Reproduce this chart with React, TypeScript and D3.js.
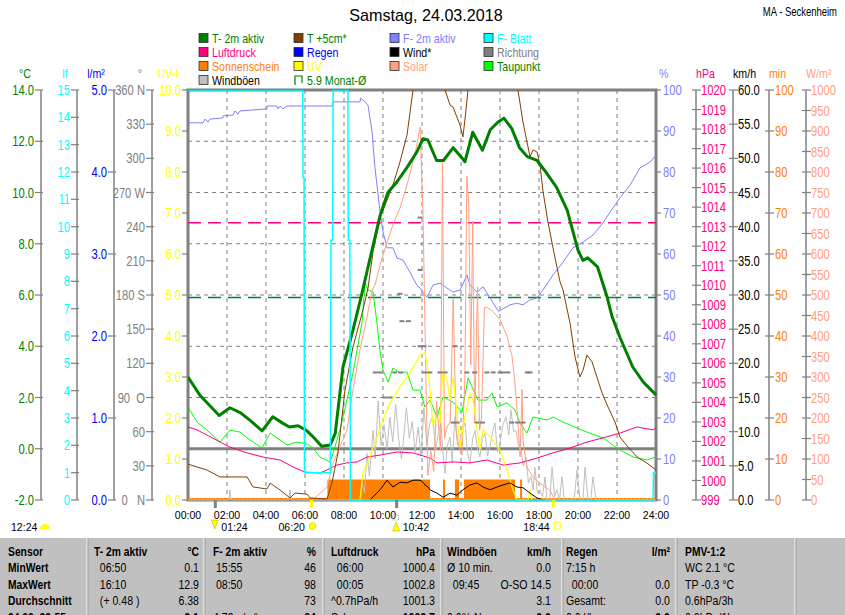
import React from "react";
import * as d3 from "d3";

type P = [number, number];

// ---------- data ----------
const hourTicks = d3.range(0, 25, 2);
const hourLabels = hourTicks.map((h) => `${String(h).padStart(2, "0")}:00`);

const tempT2m: P[] = [
  [0, 2.8], [0.6, 2.1], [1.1, 1.7], [1.6, 1.3], [2.15, 1.6], [2.7, 1.4], [3.2, 1.1], [3.8, 0.7],
  [4.35, 1.25], [4.85, 1.0], [5.2, 0.85], [5.65, 0.9], [6.1, 0.7], [6.5, 0.4], [6.85, 0.1], [7.3, 0.15],
  [7.55, 0.6], [7.95, 3.2], [8.45, 4.6], [8.9, 6.0], [9.45, 7.8], [9.85, 9.1], [10.25, 10.0], [10.7, 10.4],
  [11.25, 11.0], [11.75, 11.6], [12.05, 12.1], [12.3, 12.05], [12.75, 11.25], [13.1, 11.25], [13.6, 11.75],
  [14.05, 11.35], [14.2, 11.2], [14.6, 12.35], [15.1, 11.65], [15.5, 12.45], [15.9, 12.75], [16.2, 12.9],
  [16.6, 12.5], [17.0, 11.75], [17.4, 11.4], [17.9, 11.25], [18.4, 10.75], [18.9, 10.2], [19.45, 9.3],
  [19.75, 8.45], [20.0, 7.75], [20.25, 7.35], [20.5, 7.45], [21.0, 7.1], [21.5, 5.9], [21.75, 5.15],
  [22.15, 4.35], [22.8, 3.2], [23.35, 2.6], [24, 2.1],
];

const temp5cm: P[] = [
  [0, -0.6], [0.46, -0.71], [0.97, -0.83], [1.64, -1.1], [3.03, -1.1], [3.33, -1.49], [4.05, -1.57],
  [4.21, -1.34], [4.72, -1.61], [5.23, -1.92], [5.49, -1.73], [6.1, -1.77], [6.26, -1.92], [7.13, -1.96],
  [7.38, -1.34], [7.69, -0.17], [8.05, 2.29], [8.46, 3.97], [8.97, 5.41], [9.23, 6.27], [9.49, 7.68],
  [9.85, 9.0], [10.51, 10.29], [10.87, 11.19], [11.23, 12.24], [11.54, 14.0], [11.9, 14.9], [12.6, 14.7],
  [13.18, 14.0], [13.44, 13.41], [13.59, 13.34], [13.95, 12.63], [14.1, 12.17], [14.21, 12.9], [14.36, 14.0],
  [15.2, 15.6], [16.2, 15.2], [16.92, 14.0], [17.18, 12.75], [17.54, 11.39], [17.69, 11.66], [17.9, 11.58],
  [18.05, 11.07], [18.21, 10.02], [18.46, 8.85], [18.72, 7.83], [19.08, 6.51], [19.23, 6.2], [19.59, 4.91],
  [19.85, 3.58], [20.1, 2.8], [20.26, 3.07], [20.46, 3.66], [20.72, 3.39], [20.97, 2.8], [21.23, 2.18],
  [21.54, 1.63], [21.9, 1.04], [22.15, 0.46], [22.56, 0.07], [23.03, -0.32], [23.54, -0.56], [24, -0.83],
];

const humidity: P[] = [
  [0, 92], [0.77, 92], [0.87, 92.9], [1.03, 92.2], [1.13, 92.9], [1.79, 93.2], [1.8, 93.7], [2.31, 93.9],
  [2.41, 94.9], [2.56, 94.1], [2.67, 94.9], [4.05, 95.4], [4.06, 96.1], [4.56, 96.1], [4.62, 95.4],
  [4.72, 96.1], [4.87, 95.4], [5.08, 96.1], [7.38, 96.1], [7.44, 97.1], [8.82, 97.1], [8.85, 98],
  [9.08, 97.1], [9.23, 96.3], [9.33, 93.2], [9.44, 89.8], [9.49, 86.6], [9.59, 81], [9.69, 76.8],
  [9.85, 70.2], [10.0, 65.4], [10.21, 61.5], [10.51, 61.5], [10.72, 59], [11.03, 58.5], [11.38, 55.6],
  [11.54, 54.1], [11.74, 52.4], [11.9, 51.7], [12.05, 50.7], [12.26, 49.5], [12.56, 52.4], [12.92, 52.9],
  [13.28, 51.7], [13.59, 50.7], [13.95, 51.2], [14.31, 54.9], [14.46, 52.4], [14.82, 50.7], [15.13, 52],
  [15.49, 49.3], [15.92, 46], [16.51, 47.6], [16.87, 48], [17.18, 47.6], [17.54, 48.8], [17.9, 49.3],
  [18.2, 51.2], [18.72, 54.9], [19.23, 58], [19.74, 61.5], [20.26, 62.9], [20.77, 64.6], [21.28, 67.6],
  [21.64, 70.2], [22.15, 73.7], [22.67, 76.8], [23.18, 81], [23.69, 82.4], [24, 84.1],
];

const leafWet: P[] = [
  [0, 15], [5.88, 15], [5.9, 11.8], [5.95, 11.8], [5.97, 1], [7.3, 1], [7.33, 9.5], [7.42, 9.5], [7.44, 15],
  [8.2, 15], [8.22, 9.5], [8.3, 9.5], [8.33, 0], [23.85, 0], [23.87, 1], [24, 1],
];

const pressure: P[] = [
  [0, 1002.74], [0.46, 1002.59], [0.97, 1002.33], [1.64, 1001.97], [2.15, 1001.71], [3.03, 1001.41],
  [3.85, 1001.2], [4.72, 1001.05], [5.38, 1000.69], [6.0, 1000.43], [6.77, 1000.38], [7.13, 1000.54],
  [7.64, 1000.79], [8.15, 1000.9], [8.67, 1000.95], [9.18, 1001.2], [9.85, 1001.3], [10.72, 1001.46],
  [11.54, 1001.41], [12.41, 1001.15], [12.77, 1000.9], [13.59, 1000.95], [14.46, 1000.9], [15.33, 1001.05],
  [16.15, 1000.79], [17.03, 1000.9], [17.9, 1001.15], [18.72, 1001.41], [19.59, 1001.66], [20.46, 1001.97],
  [21.28, 1002.18], [22.15, 1002.43], [23.03, 1002.74], [23.85, 1002.59], [24, 1002.7],
];

const dewPoint: P[] = [
  [0, 1.63], [0.46, 1.04], [0.97, 0.73], [1.64, 0.26], [2.15, 0.73], [2.67, 0.65], [3.18, 0.34], [3.79, 0.03],
  [4.21, 0.61], [4.72, 0.34], [5.08, 0.15], [5.59, 0.26], [6.1, 0.19], [6.41, 0.03], [6.77, -0.32],
  [7.28, -0.52], [7.44, -0.17], [7.79, 0.73], [8.15, 1.9], [8.46, 2.96], [8.92, 4.91], [9.08, 6.47],
  [9.23, 6.2], [9.49, 6.12], [9.69, 4.91], [9.85, 3.78], [10.0, 3.07], [10.26, 2.6], [10.51, 3.15],
  [10.87, 2.96], [11.23, 3.0], [11.54, 2.29], [11.9, 2.29], [12.15, 1.63], [12.41, 1.9], [12.77, 1.24],
  [13.08, 2.02], [13.59, 1.82], [14.05, 1.43], [14.36, 2.76], [14.87, 1.9], [15.33, 1.9], [15.59, 2.18],
  [15.85, 1.63], [16.36, 1.79], [16.77, 1.51], [17.03, 1.0], [17.38, 0.61], [17.69, 1.24], [18.41, 1.12],
  [18.72, 1.24], [19.23, 1.04], [19.95, 0.81], [20.46, 0.65], [21.28, 0.42], [22.15, -0.05], [22.82, -0.32],
  [23.54, -0.44], [24, -0.32],
];

const uvIndex: P[] = [
  [8.82, 0], [8.97, 0.66], [9.33, 1.05], [9.69, 1.54], [10.0, 1.95], [10.36, 2.37], [10.87, 2.76],
  [11.38, 3.1], [11.9, 3.54], [12.15, 3.59], [12.31, 3.17], [12.41, 2.68], [12.56, 1.83], [12.77, 2.02],
  [12.92, 1.9], [13.08, 3.17], [13.28, 2.93], [13.44, 2.44], [13.59, 3.0], [13.79, 2.12], [13.95, 1.29],
  [14.1, 1.78], [14.31, 2.27], [14.46, 2.61], [14.62, 2.44], [14.97, 1.22], [15.13, 1.71], [15.49, 1.54],
  [16.0, 1.22], [16.36, 0.73], [16.67, 0.24], [16.87, 0], [17.44, 0], [17.54, 0.24], [17.64, 0],
];

const solar: P[] = [
  [6.41, 0], [7.13, 32], [7.44, 90], [8.15, 171], [8.46, 268], [8.82, 366], [9.18, 446], [9.44, 512],
  [9.59, 524], [9.85, 573], [10.21, 629], [10.51, 671], [10.87, 712], [11.23, 768], [11.49, 817],
  [11.74, 866], [11.9, 910], [12.05, 700], [12.2, 300], [12.3, 60], [12.45, 120], [12.6, 70], [12.75, 240],
  [12.85, 180], [12.95, 120], [13.05, 830], [13.15, 150], [13.3, 180], [13.45, 190], [13.6, 490],
  [13.75, 170], [13.9, 130], [14.05, 110], [14.2, 300], [14.3, 790], [14.4, 720], [14.5, 330], [14.6, 680],
  [14.7, 190], [14.85, 520], [14.95, 170], [15.05, 200], [15.2, 470], [15.33, 470], [15.64, 460],
  [16.0, 440], [16.36, 400], [16.62, 350], [16.77, 285], [16.92, 190], [17.03, 105], [17.13, 270],
  [17.18, 145], [17.38, 80], [17.69, 56], [18.05, 41], [18.56, 24], [18.82, 0],
];

const wind: P[] = [
  [9.33, 0], [9.85, 1.5], [10.21, 2.9], [10.51, 1.9], [10.87, 2.6], [11.23, 2.5], [11.54, 2.9], [11.9, 2.9],
  [12.05, 2.6], [12.15, 2.2], [12.31, 1.9], [12.41, 1.5], [12.77, 1.0], [13.08, 0.4], [13.44, 1.0],
  [13.79, 0.7], [14.1, 1.5], [14.46, 2.2], [14.82, 2.5], [15.13, 1.9], [15.49, 1.5], [15.85, 1.9],
  [16.15, 2.2], [16.51, 2.5], [16.87, 1.9], [17.18, 1.8], [17.54, 1.0], [17.9, 0.3], [18.2, 0],
];

const gusts: P[] = [
  [0, 0], [2.1, 0], [2.15, 1.5], [2.2, 0], [5.18, 0], [5.23, 1.5], [5.28, 0], [8.85, 0], [8.92, 2.5],
  [9.05, 1.0], [9.18, 6.8], [9.3, 3.5], [9.49, 10.2], [9.6, 6.0], [9.75, 14.5], [9.9, 8.0], [10.05, 11.0],
  [10.21, 7.5], [10.35, 12.1], [10.5, 8.5], [10.65, 14.0], [10.8, 9.0], [10.95, 6.0], [11.05, 8.8],
  [11.2, 13.5], [11.35, 9.0], [11.5, 11.5], [11.65, 7.0], [11.8, 10.7], [11.95, 6.5], [12.1, 13.5],
  [12.25, 8.0], [12.4, 11.3], [12.55, 12.2], [12.7, 7.3], [12.85, 10.0], [12.97, 11.3], [13.1, 6.0],
  [13.18, 3.9], [13.3, 8.0], [13.44, 9.2], [13.55, 5.5], [13.69, 12.2], [13.82, 8.0], [13.95, 7.8],
  [14.08, 10.5], [14.21, 11.3], [14.33, 7.0], [14.46, 5.4], [14.6, 9.0], [14.72, 10.2], [14.85, 7.5],
  [14.97, 6.3], [15.1, 9.0], [15.23, 9.7], [15.36, 6.5], [15.49, 7.8], [15.62, 10.0], [15.74, 11.3],
  [15.87, 7.0], [16.0, 8.4], [16.15, 11.0], [16.31, 12.2], [16.45, 9.5], [16.56, 13.2], [16.7, 10.0],
  [16.82, 10.2], [16.95, 8.0], [17.08, 7.3], [17.2, 5.0], [17.33, 6.3], [17.46, 2.5], [17.59, 3.4],
  [17.7, 1.5], [17.79, 4.8], [17.92, 1.0], [18.05, 1.5], [18.18, 0.5], [18.31, 3.4], [18.41, 0], [18.55, 0],
  [18.67, 4.8], [18.8, 0.5], [18.92, 1.5], [19.05, 0], [19.18, 3.4], [19.3, 0], [19.8, 0], [19.95, 4.4],
  [20.1, 0], [20.25, 0], [20.36, 4.8], [20.51, 0], [20.65, 0], [20.77, 3.4], [20.92, 0], [24, 0],
];

const windDir: P[] = [
  [10.87, 181], [10.97, 157], [11.3, 157], [9.6, 112], [9.85, 112], [10.6, 112], [10.9, 112], [12.15, 112],
  [12.4, 112], [12.92, 112], [13.18, 112], [14.3, 112], [14.7, 112], [15.33, 112], [15.65, 112], [16.0, 112],
  [16.15, 112], [16.4, 112], [17.4, 112], [17.54, 112], [10.1, 90], [10.36, 90], [13.6, 68], [13.8, 68],
  [14.82, 68], [15.1, 68], [16.6, 68], [16.9, 68], [17.18, 68], [11.9, 135], [12.1, 135], [13.7, 135],
  [11.9, 248], [11.9, 202],
];

const sunStart = [7.15, 13.08, 13.69, 14.15, 17.03];
const sunEnd = [12.41, 13.18, 13.9, 16.77, 17.13];
const sunMinutes = 5;

const monthAvgTemp = 5.9;
const monthAvgPress = 1013.2;

const degLabels = ["0   N", "30", "60", "90  O", "120", "150", "180 S", "210", "240", "270 W", "300", "330", "360 N"];

const legendLabels = [
  "T- 2m aktiv", "T +5cm*", "F- 2m aktiv", "F- Blatt",
  "Luftdruck", "Regen", "Wind*", "Richtung",
  "Sonnenschein", "UV", "Solar", "Taupunkt",
  "Windböen", "5.9 Monat-Ø",
];
const legendSwatch = [
  "#008000", "#804000", "#8080FF", "#00FFFF",
  "#FF0080", "#0000FF", "#000000", "#808080",
  "#FF8000", "#FFFF00", "#FFA080", "#00FF00",
  "#C0C0C0", "none",
];
const legendText = [
  "#008000", "#008000", "#8080FF", "#00FFFF",
  "#FF0080", "#0000FF", "#000000", "#808080",
  "#FF8000", "#FFFF00", "#FFA080", "#008000",
  "#000000", "#008000",
];

const tableHeaders = ["Sensor", "T- 2m aktiv", "F- 2m aktiv", "Luftdruck", "Windböen", "Regen", "PMV-1:2"];
const tableUnits = ["", "°C", "%", "hPa", "km/h", "l/m²", ""];
const rowLabels = ["MinWert", "MaxWert", "Durchschnitt", "24.03. 23:55"];
const cellLeft = [
  ["  06:50", "  16:10", "  (+ 0.48 )", ""],
  [" 15:55", " 08:50", "", "4.79 g/m³"],
  ["  06:00", "  00:05", "^0.7hPa/h", "Sch."],
  ["Ø 10 min.", "  09:45", "", "0.0% N"],
  ["7:15 h", "  00:00", "Gesamt:", "0.0 l/h"],
  ["WC 2.1 °C", "TP -0.3 °C", "0.6hPa/3h", "0.0hPa/1h"],
];
const cellRight = [
  ["0.1", "12.9", "6.38", "2.1"],
  ["46", "98", "73", "84"],
  ["1000.4", "1002.8", "1001.3", "1002.7"],
  ["0.0", "O-SO 14.5", "3.1", "0.0"],
  ["", "0.0", "0.0", "0.0"],
  ["", "", "", ""],
];

// ---------- layout ----------
const X0 = 188, X1 = 656, Y0 = 90, Y1 = 500;
const FR = "'Liberation Sans', Arial, sans-serif";
const GRAY = "#808080";

const colX = [8, 94, 213, 331, 447, 566, 685];
const colR = [0, 199, 316, 435, 551, 670, 0];
const sepX = [87, 204, 323, 441, 562, 676, 795];
const rowY = [572, 589, 605, 622];

type TP = {
  x: number; y: number; size?: number; sx?: number; anchor?: string; fill?: string;
  weight?: string; dy?: string; pre?: boolean; children?: React.ReactNode;
};
function T({ x, y, size = 13, sx = 0.82, anchor = "start", fill = "#000", weight = "normal", dy, pre, children }: TP) {
  return (
    <text transform={`translate(${x},${y}) scale(${sx},1)`} fontFamily={FR} fontSize={size} textAnchor={anchor}
      fill={fill} fontWeight={weight} dy={dy} xmlSpace={pre ? "preserve" : undefined}
      style={pre ? { whiteSpace: "pre" } : undefined}>{children}</text>
  );
}

export default function App() {
  const x = d3.scaleLinear().domain([0, 24]).range([X0, X1]);
  const yT = d3.scaleLinear().domain([-2, 14]).range([Y1, Y0]);
  const yLf = d3.scaleLinear().domain([0, 15]).range([Y1, Y0]);
  const yRain = d3.scaleLinear().domain([0, 5]).range([Y1, Y0]);
  const yDeg = d3.scaleLinear().domain([0, 360]).range([Y1, Y0]);
  const yUV = d3.scaleLinear().domain([0, 10]).range([Y1, Y0]);
  const yHum = d3.scaleLinear().domain([0, 100]).range([Y1, Y0]);
  const yP = d3.scaleLinear().domain([999, 1020]).range([Y1, Y0]);
  const yKmh = d3.scaleLinear().domain([0, 60]).range([Y1, Y0]);
  const yMin = d3.scaleLinear().domain([0, 100]).range([Y1, Y0]);
  const yW = d3.scaleLinear().domain([0, 1000]).range([Y1, Y0]);

  const mk = (ys: d3.ScaleLinear<number, number>) =>
    d3.line<P>().x((d) => x(d[0])).y((d) => ys(d[1]));

  const leftAxes = [
    { ax: 41, s: yT, ticks: d3.range(-2, 15, 2), lab: (d: number, i: number) => d.toFixed(1), color: "#008000", title: "°C", tx: 25 },
    { ax: 77, s: yLf, ticks: d3.range(0, 16), lab: (d: number, i: number) => String(d), color: "#00FFFF", title: "lf", tx: 65 },
    { ax: 114, s: yRain, ticks: d3.range(0, 6), lab: (d: number, i: number) => d.toFixed(1), color: "#0000FF", title: "l/m²", tx: 96 },
    { ax: 152, s: yDeg, ticks: d3.range(0, 361, 30), lab: (d: number, i: number) => degLabels[i], color: GRAY, title: "°", tx: 140 },
    { ax: X0, s: yUV, ticks: d3.range(0, 11), lab: (d: number, i: number) => d.toFixed(1), color: "#FFFF00", title: "UV-I", tx: 168 },
  ];
  const rightAxes = [
    { ax: X1, s: yHum, ticks: d3.range(0, 101, 10), lab: (d: number) => String(d), color: "#8080FF", title: "%", tx: 659, lx: 663 },
    { ax: 696, s: yP, ticks: d3.range(999, 1021), lab: (d: number) => String(d), color: "#FF0080", title: "hPa", tx: 696, lx: 701 },
    { ax: 733, s: yKmh, ticks: d3.range(0, 61, 5), lab: (d: number) => d.toFixed(1), color: "#000000", title: "km/h", tx: 733, lx: 738 },
    { ax: 769, s: yMin, ticks: d3.range(0, 101, 10), lab: (d: number) => String(d), color: "#FF8000", title: "min", tx: 769, lx: 775 },
    { ax: 806, s: yW, ticks: d3.range(0, 1001, 50), lab: (d: number) => String(d), color: "#FFA080", title: "W/m²", tx: 806, lx: 811 },
  ];

  const sunrise = 6 + 20 / 60, sunset = 18 + 44 / 60, moonset = 1 + 24 / 60, moonrise = 10 + 42 / 60;
  const rowB = 531;

  return (
    <svg width={845} height={615} style={{ position: "fixed", left: 0, top: 0, background: "#fff" }}>
      <defs>
        <clipPath id="plot">
          <rect x={X0} y={Y0} width={X1 - X0 + 1} height={Y1 - Y0 + 1} />
        </clipPath>
      </defs>
      <rect x={0} y={0} width={845} height={615} fill="#fff" />

      {/* titles */}
      <T x={426} y={21} size={17} sx={0.95} anchor="middle">Samstag, 24.03.2018</T>
      <T x={837} y={16} size={12} sx={0.79} anchor="end">MA - Seckenheim</T>

      {/* legend */}
      {legendLabels.map((l, i) => {
        const cx = [199, 294, 390, 484][i % 4];
        const cy = 38 + Math.floor(i / 4) * 14;
        return (
          <g key={l}>
            {legendSwatch[i] === "none" ? (
              <path d={`M${cx + 1},${cy + 5} V${cy - 4} H${cx + 8} V${cy + 3}`} fill="none" stroke="#008000" strokeWidth={1.2} />
            ) : (
              <rect x={cx} y={cy - 4.5} width={9} height={9} fill={legendSwatch[i]} stroke="#303030" strokeWidth={0.8} />
            )}
            <T x={cx + 13} y={cy + 4.5} size={13} fill={legendText[i]}>{l}</T>
          </g>
        );
      })}

      {/* left axes */}
      {leftAxes.map((a) => (
        <g key={a.title}>
          <T x={a.tx} y={78} size={13} fill={a.color} anchor="middle">{a.title}</T>
          {a.ax !== X0 && <line x1={a.ax} x2={a.ax} y1={Y0} y2={Y1} stroke={GRAY} strokeWidth={1.5} />}
          {a.ticks.map((t, i) => (
            <g key={t}>
              <line x1={a.ax - 6} x2={a.ax + (a.ax === X0 ? 0 : 2)} y1={a.s(t)} y2={a.s(t)} stroke={GRAY} strokeWidth={1.2} />
              <T x={a.ax - 7} y={a.s(t)} dy="0.36em" size={14} sx={0.8} fill={a.color} anchor="end" pre>{a.lab(t, i)}</T>
            </g>
          ))}
        </g>
      ))}

      {/* right axes */}
      {rightAxes.map((a) => (
        <g key={a.title}>
          <T x={a.tx} y={78} size={13} fill={a.color}>{a.title}</T>
          {a.ax !== X1 && <line x1={a.ax} x2={a.ax} y1={Y0} y2={Y1} stroke={GRAY} strokeWidth={1.5} />}
          {a.ticks.map((t) => (
            <g key={t}>
              <line x1={a.ax - (a.ax === X1 ? 0 : 4)} x2={a.ax + 5} y1={a.s(t)} y2={a.s(t)} stroke={GRAY} strokeWidth={1.2} />
              <T x={a.lx} y={a.s(t)} dy="0.36em" size={14} sx={0.8} fill={a.color}>{a.lab(t)}</T>
            </g>
          ))}
        </g>
      ))}

      {/* grid */}
      {hourTicks.slice(1, -1).map((h) => (
        <line key={h} x1={x(h)} x2={x(h)} y1={Y0} y2={Y1} stroke={GRAY} strokeDasharray="4,4" strokeWidth={1} />
      ))}
      {d3.range(2, 14, 2).map((t) => (
        <line key={t} x1={X0} x2={X1} y1={yT(t)} y2={yT(t)} stroke={GRAY} strokeDasharray="4,4" strokeWidth={1} />
      ))}
      <line x1={X0} x2={X1} y1={yT(0)} y2={yT(0)} stroke={GRAY} strokeWidth={3} />

      {/* frame */}
      <rect x={X0} y={Y0} width={X1 - X0} height={Y1 - Y0} fill="none" stroke={GRAY} strokeWidth={3} />

      {/* series */}
      <g clipPath="url(#plot)">
        {sunStart.map((s, i) => (
          <rect key={s} x={x(s)} y={yMin(sunMinutes)} width={x(sunEnd[i]) - x(s)} height={yMin(0) - yMin(sunMinutes)} fill="#FF8000" />
        ))}
        <line x1={X0} x2={X1} y1={Y1 - 1} y2={Y1 - 1} stroke="#FF8000" strokeWidth={2} strokeDasharray="3,1" />
        <line x1={X0} x2={X1} y1={yT(monthAvgTemp)} y2={yT(monthAvgTemp)} stroke="#008040" strokeWidth={1.5} strokeDasharray="13,7" />
        <line x1={X0} x2={X1} y1={yP(monthAvgPress)} y2={yP(monthAvgPress)} stroke="#FF0080" strokeWidth={1.5} strokeDasharray="13,7" />
        <path d={mk(yKmh)(gusts) || ""} fill="none" stroke="#C0C0C0" strokeWidth={1} />
        <path d={mk(yT)(dewPoint) || ""} fill="none" stroke="#00FF00" strokeWidth={1} />
        <path d={mk(yP)(pressure) || ""} fill="none" stroke="#FF0080" strokeWidth={1} />
        <path d={mk(yHum)(humidity) || ""} fill="none" stroke="#8080FF" strokeWidth={1} />
        <path d={mk(yW)(solar) || ""} fill="none" stroke="#FFA080" strokeWidth={1} />
        <path d={mk(yUV)(uvIndex) || ""} fill="none" stroke="#FFFF00" strokeWidth={1.2} />
        <path d={mk(yT)(temp5cm) || ""} fill="none" stroke="#804000" strokeWidth={1} />
        <path d={mk(yT)(tempT2m) || ""} fill="none" stroke="#008000" strokeWidth={3} strokeLinejoin="round" />
        <path d={mk(yKmh)(wind) || ""} fill="none" stroke="#000000" strokeWidth={1} />
        <path d={mk(yLf)(leafWet) || ""} fill="none" stroke="#00FFFF" strokeWidth={1.5} />
        {windDir.map((d, i) => (
          <line key={i} x1={x(d[0]) - 2.5} x2={x(d[0]) + 2.5} y1={yDeg(d[1])} y2={yDeg(d[1])} stroke={GRAY} strokeWidth={2} />
        ))}
      </g>

      {/* sun / moon ticks */}
      {[moonset, moonrise].map((h) => (
        <line key={h} x1={x(h)} x2={x(h)} y1={Y1} y2={Y1 + 8} stroke={GRAY} strokeWidth={3} />
      ))}
      {[sunrise, sunset].map((h) => (
        <line key={h} x1={x(h)} x2={x(h)} y1={Y1} y2={Y1 + 8} stroke="#FFFF00" strokeWidth={3} />
      ))}

      {/* hour labels */}
      {hourTicks.map((h, i) => (
        <T key={h} x={x(h)} y={518.5} size={11.5} sx={0.92} anchor="middle">{hourLabels[i]}</T>
      ))}

      {/* sun/moon line */}
      <T x={11} y={rowB} size={11.5} sx={0.92}>12:24</T>
      <path d="M40,529 A5,5 0 0 1 50,529 Z" fill="#FFFF00" />
      <polygon points={`${x(moonset) - 4},520 ${x(moonset) + 3},520 ${x(moonset) - 0.5},529`} fill="#FFFF00" stroke="#C0A000" strokeWidth={0.5} />
      <T x={x(moonset) + 6} y={rowB} size={11.5} sx={0.92}>01:24</T>
      <T x={x(sunrise) - 33} y={rowB} size={11.5} sx={0.92}>06:20</T>
      <circle cx={x(sunrise) + 1} cy={526} r={3.5} fill="#FFFF00" stroke="#E0C000" strokeWidth={0.5} />
      <rect x={x(moonrise) - 4} y={515} width={6} height={5} fill="none" stroke="#8080C0" strokeWidth={0.8} strokeDasharray="1,1" />
      <polygon points={`${x(moonrise) - 4},531 ${x(moonrise) + 3},531 ${x(moonrise) - 0.5},522`} fill="#FFFF00" stroke="#C0A000" strokeWidth={0.5} />
      <T x={x(moonrise) + 6} y={rowB} size={11.5} sx={0.92}>10:42</T>
      <T x={x(sunset) - 30} y={rowB} size={11.5} sx={0.92}>18:44</T>
      <rect x={x(sunset) + 1} y={522} width={6} height={7} fill="#fff" stroke="#FFFF00" strokeWidth={1} />

      {/* table */}
      <rect x={0} y={538} width={845} height={77} fill="#C0C0C0" />
      {sepX.map((sx) => (
        <g key={sx}>
          <line x1={sx} x2={sx} y1={538} y2={615} stroke="#FFFFFF" strokeWidth={1} />
          <line x1={sx + 1} x2={sx + 1} y1={538} y2={615} stroke="#A0A0A0" strokeWidth={1} />
        </g>
      ))}
      {tableHeaders.map((h, i) => (
        <g key={h}>
          <T x={colX[i]} y={556} size={12} sx={0.86} weight="bold">{h}</T>
          {tableUnits[i] && (
            <T x={colR[i]} y={556} size={12} sx={0.86} weight="bold" anchor="end">{tableUnits[i]}</T>
          )}
        </g>
      ))}
      {rowLabels.map((r, j) => (
        <T key={r} x={8} y={rowY[j]} size={12} sx={0.86} weight="bold">{r}</T>
      ))}
      {cellLeft.map((col, i) =>
        col.map((c, j) => (
          <T key={`l${i}-${j}`} x={colX[i + 1]} y={rowY[j]} size={12} sx={0.88} pre>{c}</T>
        ))
      )}
      {cellRight.map((col, i) =>
        col.map((c, j) => (
          <T key={`r${i}-${j}`} x={colR[i + 1]} y={rowY[j]} size={12} sx={0.88} anchor="end"
            weight={j === 3 ? "bold" : "normal"}>{c}</T>
        ))
      )}
    </svg>
  );
}
